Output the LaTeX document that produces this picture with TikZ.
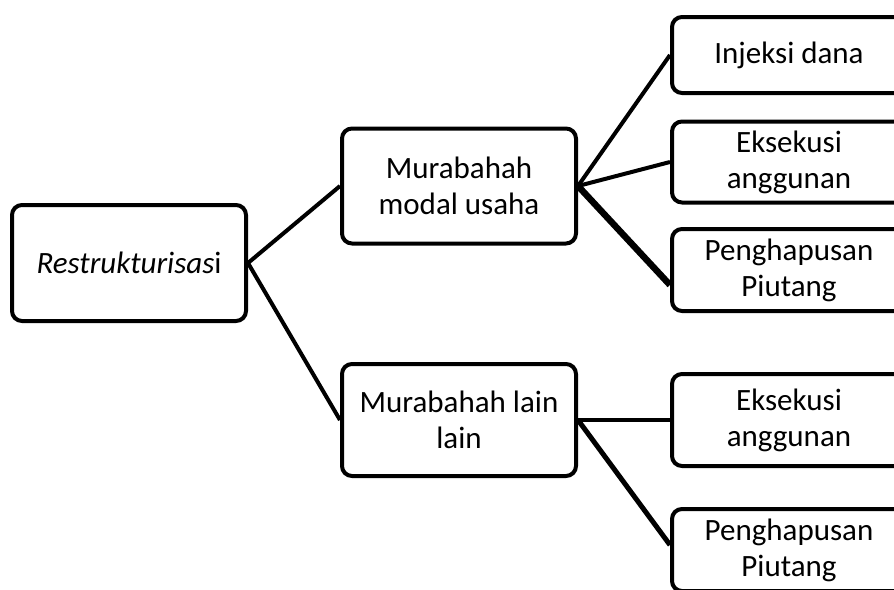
\documentclass[tikz,border=0pt]{standalone}
\usepackage{fontspec}
\setmainfont{Carlito}
\begin{document}
\begin{tikzpicture}[x=1pt, y=-1pt,
  box/.style={draw, line width=4pt, rounded corners=10pt, align=center,
    inner sep=0pt, font=\fontsize{31}{36}\selectfont},
  wide/.style={box, minimum width=234pt},
  link/.style={line width=4pt},
  heavy/.style={line width=6.5pt}]
  \useasboundingbox (0,0) rectangle (894,589);
  \clip (0,0) rectangle (894,589);

  \node[wide, minimum height=116pt] (restr) at (129,263) {\textit{Restrukturisas}i};
  \node[wide, minimum height=115pt] (modal) at (459,186) {Murabahah\\modal usaha};
  \node[wide, minimum height=112pt] (lain) at (459,420) {Murabahah lain\\lain};

  \node[wide, minimum height=76pt] (injeksi) at (789,55) {Injeksi dana};
  \node[wide, minimum height=81pt] (eksA) at (789,162) {Eksekusi\\anggunan};
  \node[wide, minimum height=82pt] (hapusA) at (789,270) {Penghapusan\\Piutang};
  \node[wide, minimum height=92pt] (eksB) at (789,420) {Eksekusi\\anggunan};
  \node[wide, minimum height=82pt] (hapusB) at (789,550) {Penghapusan\\Piutang};

  \draw[link] (restr.east) -- (modal.west);
  \draw[link] (restr.east) -- (lain.west);

  \draw[link] (modal.east) -- (injeksi.west);
  \draw[link] (modal.east) -- (eksA.west);
  \draw[heavy] (modal.east) -- ([yshift=-15pt]hapusA.west);

  \draw[link] (lain.east) -- (eksB.west);
  \draw[link, line width=5pt] (lain.east) -- ([yshift=5pt]hapusB.west);
\end{tikzpicture}
\end{document}
